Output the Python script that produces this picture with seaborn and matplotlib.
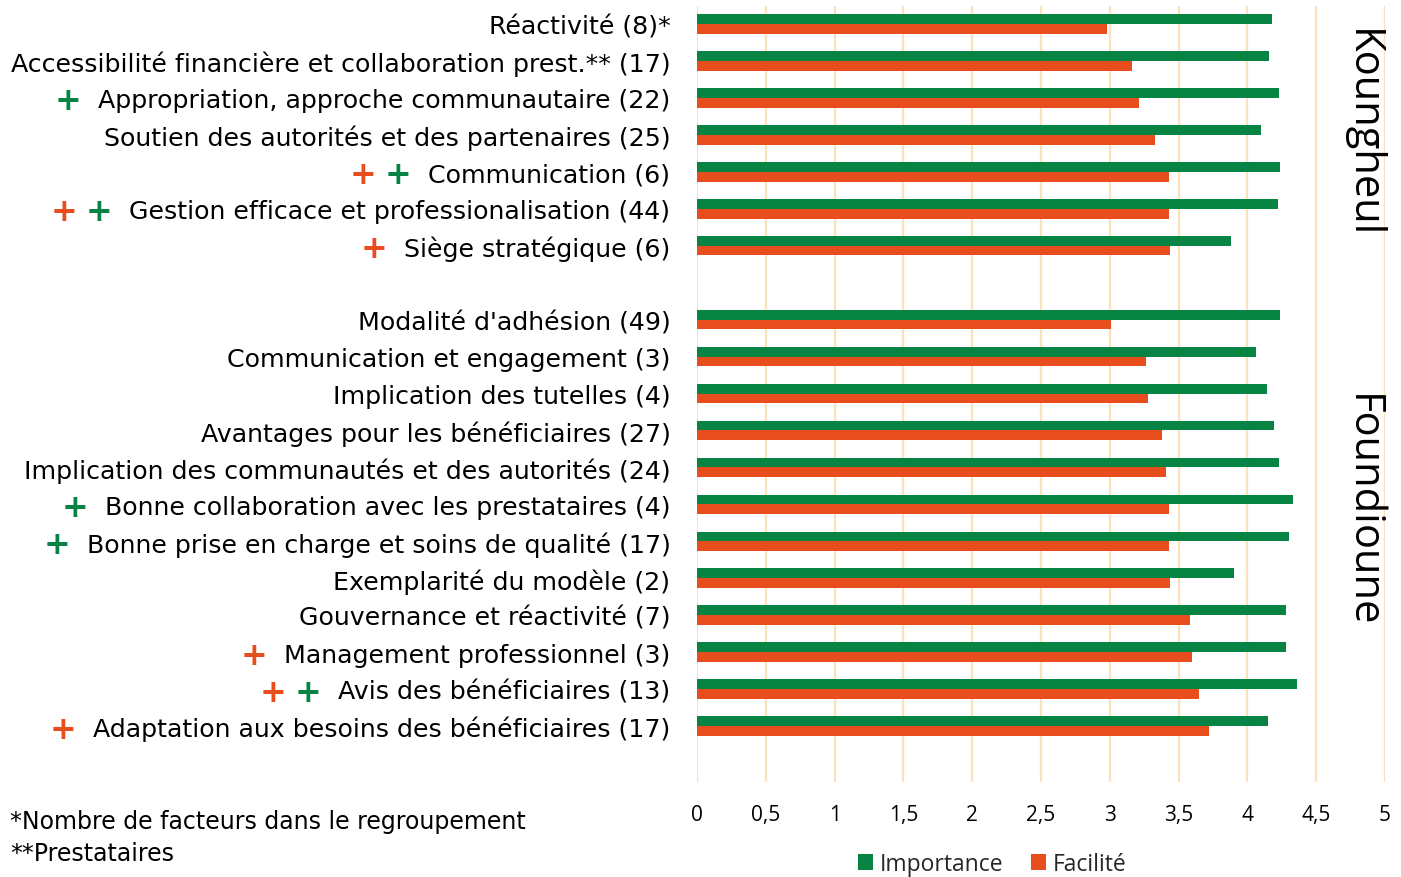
import matplotlib
matplotlib.use("Agg")
import matplotlib.pyplot as plt
import seaborn as sns
import pandas as pd
from matplotlib.ticker import FuncFormatter, MultipleLocator
from matplotlib.patches import Patch

# ── Data ─────────────────────────────────────────────────────────────────────
koungheul_labels = [
    "Réactivité (8)*",
    "Accessibilité financière et collaboration prest.** (17)",
    "Appropriation, approche communautaire (22)",
    "Soutien des autorités et des partenaires (25)",
    "Communication (6)",
    "Gestion efficace et professionalisation (44)",
    "Siège stratégique (6)",
]
koungheul_importance = [4.18, 4.16, 4.23, 4.10, 4.24, 4.22, 3.88]
koungheul_facilite = [2.98, 3.16, 3.21, 3.33, 3.43, 3.43, 3.44]

foundioune_labels = [
    "Modalité d'adhésion (49)",
    "Communication et engagement (3)",
    "Implication des tutelles (4)",
    "Avantages pour les bénéficiaires (27)",
    "Implication des communautés et des autorités (24)",
    "Bonne collaboration avec les prestataires (4)",
    "Bonne prise en charge et soins de qualité (17)",
    "Exemplarité du modèle (2)",
    "Gouvernance et réactivité (7)",
    "Management professionnel (3)",
    "Avis des bénéficiaires (13)",
    "Adaptation aux besoins des bénéficiaires (17)",
]
foundioune_importance = [4.24, 4.06, 4.14, 4.19, 4.23, 4.33, 4.30, 3.90, 4.28, 4.28, 4.36, 4.15]
foundioune_facilite = [3.01, 3.26, 3.28, 3.38, 3.41, 3.43, 3.43, 3.44, 3.58, 3.60, 3.65, 3.72]

series = ["Importance", "Facilité"]
colors = {"Importance": "#078443", "Facilité": "#E84E1D"}

# "+" marks left of some labels (listed left to right)
plus_marks = {
    "Appropriation, approche communautaire (22)": ["Importance"],
    "Communication (6)": ["Facilité", "Importance"],
    "Gestion efficace et professionalisation (44)": ["Facilité", "Importance"],
    "Siège stratégique (6)": ["Facilité"],
    "Bonne collaboration avec les prestataires (4)": ["Importance"],
    "Bonne prise en charge et soins de qualité (17)": ["Importance"],
    "Management professionnel (3)": ["Facilité"],
    "Avis des bénéficiaires (13)": ["Facilité", "Importance"],
    "Adaptation aux besoins des bénéficiaires (17)": ["Facilité"],
}

footnotes = ["*Nombre de facteurs dans le regroupement", "**Prestataires"]

# ── Long table ───────────────────────────────────────────────────────────────
rows = []
for labels, imp, fac in [(koungheul_labels, koungheul_importance, koungheul_facilite),
                         (foundioune_labels, foundioune_importance, foundioune_facilite)]:
    for lab, i, f in zip(labels, imp, fac):
        rows.append({"Facteur": lab, "Série": "Importance", "Score": i})
        rows.append({"Facteur": lab, "Série": "Facilité", "Score": f})
df = pd.DataFrame(rows)

order = koungheul_labels + [" "] + foundioune_labels + ["  "]

# ── Plot ─────────────────────────────────────────────────────────────────────
sns.set_style("white")
W, H = 1401, 878
fig = plt.figure(figsize=(W / 100, H / 100), dpi=100)
ax = fig.add_axes([697 / W, 1 - 782.5 / H, 688 / W, 776 / H])

sns.barplot(data=df, x="Score", y="Facteur", hue="Série", order=order,
            hue_order=series, palette=colors, saturation=1, width=0.53,
            orient="h", legend=False, linewidth=0, ax=ax)

ax.set_xlim(0, 5)
ax.set_ylim(len(order) - 0.5, -0.5)
ax.xaxis.set_major_locator(MultipleLocator(0.5))
ax.xaxis.set_major_formatter(FuncFormatter(lambda v, p: f"{v:g}".replace(".", ",")))
ax.grid(axis="x", color="#FBE1BC", linewidth=1.6)
ax.grid(axis="y", visible=False)
ax.set_axisbelow(True)
for s in ax.spines.values():
    s.set_visible(False)
ax.set_xlabel("")
ax.set_ylabel("")
ax.tick_params(axis="x", length=0, pad=16, labelsize=15, labelcolor="black")
ax.tick_params(axis="y", length=0, pad=19, labelsize=18.2, labelcolor="black")
for t in ax.get_xticklabels():
    t.set_fontfamily("Open Sans")

# region names on the right
ax.text(4.83, 2.94, "Koungheul", rotation=270, ha="center", va="center",
        fontsize=30, family="Open Sans", color="black")
ax.text(4.83, 13.15, "Foundioune", rotation=270, ha="center", va="center",
        fontsize=30, family="Open Sans", color="black")

# legend
handles = [Patch(facecolor=colors[s], edgecolor="none") for s in series]
fig.legend(handles, series, loc="center", bbox_to_anchor=(992 / W, 1 - 865 / H),
           ncol=2, frameon=False, handlelength=0.65, handleheight=0.65,
           handletextpad=0.3, columnspacing=1.2,
           prop={"family": "Open Sans", "size": 16.5})

# footnotes
for k, note in enumerate(footnotes):
    fig.text(10 / W, 1 - (822 + 32 * k) / H, note, ha="left", va="center",
             fontsize=17, color="black")

# colored "+" marks left of labels
fig.canvas.draw()
renderer = fig.canvas.get_renderer()
ypos = {lab: i for i, lab in enumerate(order)}
for t in ax.get_yticklabels():
    lab = t.get_text()
    if lab not in plus_marks:
        continue
    x0 = t.get_window_extent(renderer).x0
    yc = ax.transData.transform((0, ypos[lab]))[1] - 3
    marks = plus_marks[lab]
    for k, s in enumerate(reversed(marks)):
        xc = x0 - 30 - 35 * k
        fig.text(xc / W, yc / H, "+", ha="center", va="center", fontsize=23,
                 fontweight="bold", color=colors[s])

fig.savefig("out.png", dpi=100)
